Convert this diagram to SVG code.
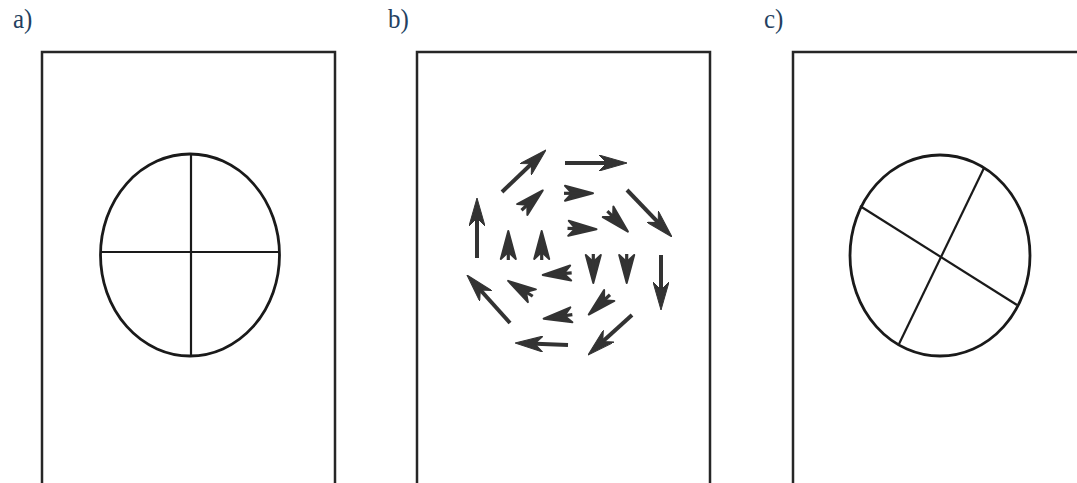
<svg xmlns="http://www.w3.org/2000/svg" xmlns:xlink="http://www.w3.org/1999/xlink" width="1077" height="483" viewBox="0 0 1077 483">
  <style>
    .label { font-family: "Liberation Serif", "Times New Roman", serif; font-size: 25px; fill: #243f60; }
    .frame { fill: none; stroke: #262626; stroke-width: 2.5; }
    .disc { fill: none; stroke: #1a1a1a; stroke-width: 2.8; }
    .axis { stroke: #1a1a1a; stroke-width: 2.2; }
    .shaft { stroke: #333; stroke-width: 4; marker-end: url(#head); }
    .dart { fill: #333; stroke: #333; }
  </style>
  <defs>
    <marker id="head" markerUnits="userSpaceOnUse" viewBox="0 0 28 16" refX="20" refY="8" markerWidth="28" markerHeight="16" orient="auto">
      <path d="M0,0 L28,8 L0,16 L8,8 Z" fill="#333" stroke="#333" stroke-width="1" stroke-linejoin="round"/>
    </marker>
    <g id="dart">
      <path d="M14,0 L-14,-7.5 L-7,0 L-14,7.5 Z" stroke-width="2" stroke-linejoin="round"/>
      <line x1="-15" y1="0" x2="4" y2="0" stroke-width="3.2"/>
    </g>
  </defs>

  <!-- panel labels -->
  <g transform="translate(13,28) scale(1,1.1)"><text class="label" x="0" y="0">a)</text></g>
  <g transform="translate(388,28) scale(1,1.1)"><text class="label" x="0" y="0">b)</text></g>
  <g transform="translate(764,28) scale(1,1.1)"><text class="label" x="0" y="0">c)</text></g>

  <!-- a) disc with upright cross -->
  <g id="panel-a">
    <path class="frame" d="M42,490 V52 H335 V490"/>
    <ellipse class="disc" cx="190" cy="255" rx="89.5" ry="101"/>
    <line class="axis" x1="100" y1="252" x2="279" y2="252"/>
    <line class="axis" x1="191" y1="154" x2="191" y2="356"/>
  </g>

  <!-- b) rotating velocity field -->
  <g id="panel-b">
    <path class="frame" d="M417,490 V52 H710 V490"/>
    <g id="outer-ring">
      <line class="shaft" x1="502" y1="192" x2="540.2" y2="155.5"/>
      <line class="shaft" x1="565" y1="163" x2="619" y2="163"/>
      <line class="shaft" x1="627" y1="190" x2="666.5" y2="231.2"/>
      <line class="shaft" x1="661" y1="255" x2="661" y2="302"/>
      <line class="shaft" x1="632" y1="315" x2="593.9" y2="349.6"/>
      <line class="shaft" x1="568" y1="345" x2="523" y2="343.3"/>
      <line class="shaft" x1="510" y1="323" x2="472.3" y2="281"/>
      <line class="shaft" x1="477" y1="258" x2="477" y2="206"/>
    </g>
    <g id="inner-ring" class="dart">
      <use xlink:href="#dart" transform="translate(532.5,200) rotate(-43)"/>
      <use xlink:href="#dart" transform="translate(579,193.3)"/>
      <use xlink:href="#dart" transform="translate(618,221.7) rotate(45)"/>
      <use xlink:href="#dart" transform="translate(582.5,228.8) rotate(2)"/>
      <use xlink:href="#dart" transform="translate(508.3,245) rotate(-90)"/>
      <use xlink:href="#dart" transform="translate(541.7,245) rotate(-90)"/>
      <use xlink:href="#dart" transform="translate(593.3,269) rotate(90)"/>
      <use xlink:href="#dart" transform="translate(626.7,269) rotate(90)"/>
      <use xlink:href="#dart" transform="translate(556.7,274) rotate(176)"/>
      <use xlink:href="#dart" transform="translate(520,288.3) rotate(212)"/>
      <use xlink:href="#dart" transform="translate(599,305) rotate(137)"/>
      <use xlink:href="#dart" transform="translate(557.5,316.7) rotate(172)"/>
    </g>
  </g>

  <!-- c) disc with tilted cross -->
  <g id="panel-c">
    <path class="frame" d="M793,490 V52 H1080"/>
    <ellipse class="disc" cx="940" cy="255.5" rx="90" ry="100.5"/>
    <line class="axis" x1="860" y1="206" x2="1017" y2="305"/>
    <line class="axis" x1="984" y1="168" x2="899" y2="344"/>
  </g>
</svg>
